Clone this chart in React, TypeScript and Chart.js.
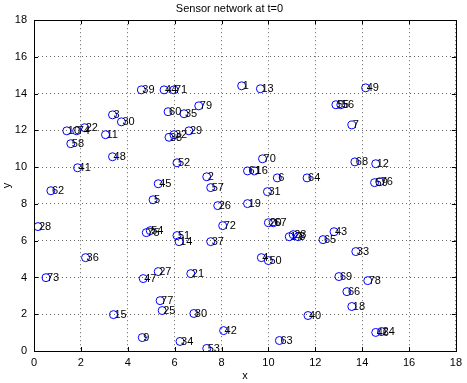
import React, { useEffect, useRef } from "react";
import { Chart, registerables } from "chart.js";

Chart.register(...registerables);

const nodeLabels = [
  "1", "13", "49", "39", "44", "71", "79", "60", "35", "55", "56", "7", "3", "30", "10", "74", "22", "11", "58", "48",
  "41", "62", "28", "38", "32", "29", "52", "45", "2", "57", "5", "26", "72", "75", "54", "51", "14", "37", "70", "61",
  "16", "6", "64", "31", "19", "20", "67", "43", "65", "17", "23", "8", "68", "12", "59", "76", "36", "73", "15", "9",
  "47", "27", "21", "77", "25", "80", "42", "34", "53", "4", "50", "69", "66", "18", "40", "63", "33", "78", "46", "24",
];
const nodeX = [
  8.86, 9.66, 14.15, 4.58, 5.55, 5.97, 7.03, 5.72, 6.40, 12.88, 13.09, 13.56, 3.35, 3.73, 1.40, 1.82, 2.16, 3.05, 1.57, 3.35,
  1.86, 0.72, 0.17, 5.76, 5.97, 6.61, 6.10, 5.30, 7.37, 7.54, 5.08, 7.84, 8.05, 4.79, 4.96, 6.10, 6.19, 7.54, 9.75, 9.11,
  9.41, 10.38, 11.65, 9.96, 9.11, 10.0, 10.21, 12.80, 12.33, 10.89, 11.06, 11.27, 13.69, 14.58, 14.53, 14.75, 2.20, 0.51, 3.39, 4.62,
  4.66, 5.30, 6.69, 5.38, 5.47, 6.82, 8.09, 6.23, 7.37, 9.70, 10.0, 13.01, 13.35, 13.56, 11.69, 10.47, 13.73, 14.24, 14.58, 14.83,
];
const nodeY = [
  14.43, 14.27, 14.32, 14.21, 14.21, 14.21, 13.34, 13.02, 12.91, 13.4, 13.4, 12.3, 12.85, 12.47, 11.98, 11.98, 12.15, 11.77, 11.28, 10.57,
  9.97, 8.72, 6.77, 11.63, 11.77, 11.98, 10.24, 9.10, 9.48, 8.89, 8.23, 7.91, 6.82, 6.44, 6.55, 6.28, 5.95, 5.95, 10.46, 9.80,
  9.80, 9.42, 9.42, 8.67, 8.02, 6.98, 6.98, 6.49, 6.06, 6.22, 6.33, 6.22, 10.29, 10.19, 9.16, 9.21, 5.08, 3.99, 1.98, 0.73,
  3.94, 4.32, 4.21, 2.74, 2.20, 2.04, 1.11, 0.52, 0.14, 5.08, 4.92, 4.05, 3.23, 2.42, 1.93, 0.57, 5.41, 3.83, 1.01, 1.06,
];
const tickValues = [0, 2, 4, 6, 8, 10, 12, 14, 16, 18];
const titleText = "Sensor network at t=0";

const FONT = "'Liberation Sans', Arial, Helvetica, sans-serif";

const labelPlugin = {
  id: "nodeLabels",
  afterDatasetsDraw(chart: any) {
    const { ctx, scales } = chart;
    const xs = scales.x;
    const ys = scales.y;
    ctx.save();
    ctx.font = "11px " + FONT;
    ctx.fillStyle = "#000";
    ctx.textAlign = "left";
    ctx.textBaseline = "middle";
    nodeLabels.forEach((lab, i) => {
      const px = xs.getPixelForValue(nodeX[i]);
      const py = ys.getPixelForValue(nodeY[i]);
      ctx.fillText(lab, px + 1, py + 0.5);
    });
    ctx.restore();
  },
  afterDraw(chart: any) {
    const { ctx, chartArea, scales } = chart;
    const { left, right, top, bottom } = chartArea;
    ctx.save();
    ctx.strokeStyle = "#000";
    ctx.lineWidth = 1;
    ctx.strokeRect(Math.round(left) + 0.5, Math.round(top) + 0.5, Math.round(right - left), Math.round(bottom - top));
    ctx.beginPath();
    tickValues.forEach((v) => {
      const px = Math.round(scales.x.getPixelForValue(v)) + 0.5;
      ctx.moveTo(px, bottom);
      ctx.lineTo(px, bottom - 4);
      ctx.moveTo(px, top);
      ctx.lineTo(px, top + 4);
      const py = Math.round(scales.y.getPixelForValue(v)) + 0.5;
      ctx.moveTo(left, py);
      ctx.lineTo(left + 4, py);
      ctx.moveTo(right, py);
      ctx.lineTo(right - 4, py);
    });
    ctx.stroke();
    ctx.restore();
  },
};

export default function App() {
  const canvasRef = useRef<HTMLCanvasElement | null>(null);

  useEffect(() => {
    document.body.style.margin = "0";
    const canvas = canvasRef.current;
    if (!canvas) return;
    const points = nodeX.map((x, i) => ({ x, y: nodeY[i] }));
    const chart = new Chart(canvas, {
      type: "scatter",
      data: {
        datasets: [
          {
            data: points,
            pointStyle: "circle",
            pointRadius: 4,
            pointHoverRadius: 4,
            borderColor: "#0000ff",
            backgroundColor: "rgba(0,0,0,0)",
            pointBorderWidth: 1,
            showLine: false,
          },
        ],
      },
      options: {
        responsive: false,
        animation: false,
        events: [],
        layout: { padding: { top: 1, right: 8, left: 0, bottom: 0 } },
        plugins: {
          legend: { display: false },
          tooltip: { enabled: false },
          title: {
            display: true,
            text: titleText,
            color: "#000",
            font: { family: FONT, size: 11, weight: "normal" },
            padding: { top: 1, bottom: 5 },
          },
        },
        scales: {
          x: {
            type: "linear",
            min: 0,
            max: 18,
            afterBuildTicks: (s: any) => {
              s.ticks = tickValues.map((v) => ({ value: v }));
            },
            afterFit: (s: any) => {
              s.height = 32;
            },
            ticks: { color: "#000", font: { family: FONT, size: 11 }, padding: 5, maxRotation: 0 },
            grid: { color: "rgba(60,60,60,0.8)", drawTicks: false, lineWidth: 1 },
            border: { display: false, dash: [1, 3] },
            title: {
              display: true,
              text: "x",
              color: "#000",
              font: { family: FONT, size: 11 },
              padding: { top: 0, bottom: 0 },
            },
          },
          y: {
            type: "linear",
            min: 0,
            max: 18,
            afterBuildTicks: (s: any) => {
              s.ticks = tickValues.map((v) => ({ value: v }));
            },
            afterFit: (s: any) => {
              s.width = 34;
            },
            ticks: { color: "#000", font: { family: FONT, size: 11 }, padding: 7 },
            grid: { color: "rgba(60,60,60,0.8)", drawTicks: false, lineWidth: 1 },
            border: { display: false, dash: [1, 3] },
            title: {
              display: true,
              text: "y",
              color: "#000",
              font: { family: FONT, size: 11 },
              padding: { top: 0, bottom: 0 },
            },
          },
        },
      },
      plugins: [labelPlugin],
    });
    return () => chart.destroy();
  }, []);

  return (
    <div style={{ width: 467, height: 383, background: "#fff" }}>
      <canvas ref={canvasRef} width={467} height={383} style={{ display: "block" }} />
    </div>
  );
}
